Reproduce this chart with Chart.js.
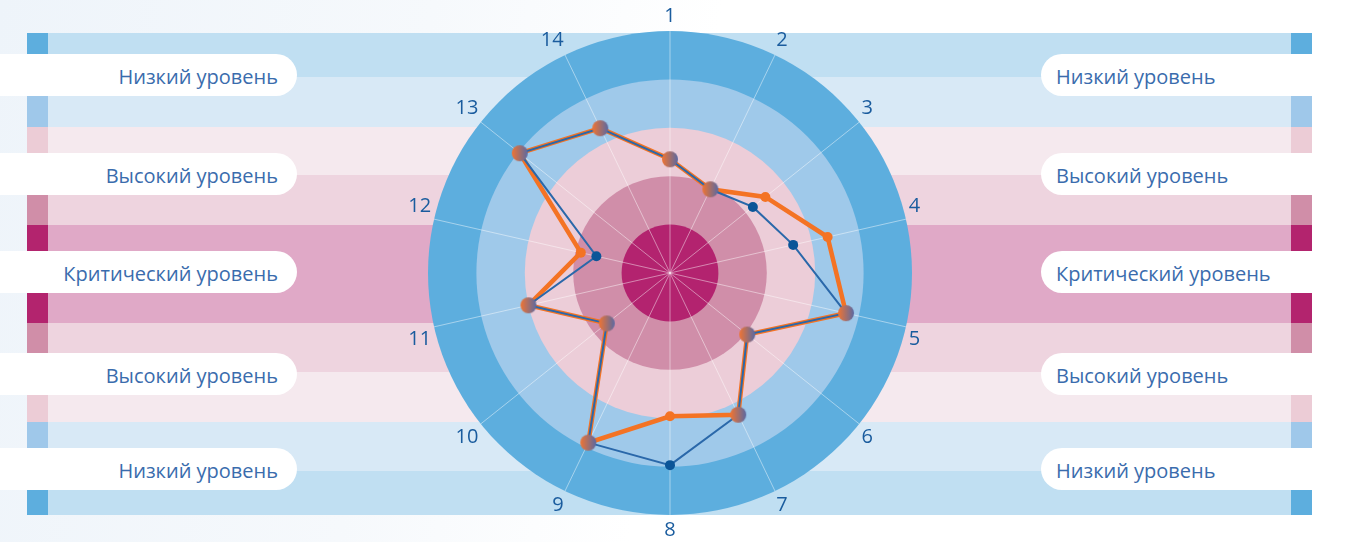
<!DOCTYPE html>
<html lang="ru">
<head>
<meta charset="utf-8">
<title>Радар уровней</title>
<script src="https://cdn.jsdelivr.net/npm/chart.js@4.4.1/dist/chart.umd.min.js"></script>
<style>
  body { margin: 0; background: #fff; font-family: 'Open Sans', sans-serif; }
  #wrap { position: relative; width: 1353px; height: 542px; overflow: hidden;
          background: linear-gradient(100deg, #eef4fa 0%, #f6f9fc 30%, #fff 50%); }
  .band, .mark { position: absolute; }
  .pill { position: absolute; height: 42px; background: #fff; color: #3a6cad;
          font-size: 20px; line-height: 45px; white-space: nowrap; overflow: hidden; }
  .pill.l { left: 0; width: 278px; padding-right: 19px; text-align: right; border-radius: 0 21px 21px 0; }
  .pill.r { left: 1041px; width: 256px; padding-left: 15px; text-align: left; border-radius: 21px 0 0 21px; }
  #chart { position: absolute; left: 0; top: 0; }
</style>
</head>
<body>
<div id="wrap">
  <canvas id="chart" width="1353" height="542"></canvas>
</div>
<script>
// оси (номера показателей)
const axisLabels = ['1', '2', '3', '4', '5', '6', '7', '8', '9', '10', '11', '12', '13', '14'];
// значения по шкале 0..5
const seriesOrange = [2.35, 1.92, 2.52, 3.34, 3.73, 2.04, 3.25, 2.96, 3.89, 1.67, 3.0, 1.89, 3.97, 3.32];
const seriesBlue   = [2.35, 1.92, 2.19, 2.61, 3.73, 2.04, 3.25, 3.97, 3.89, 1.67, 3.0, 1.56, 3.97, 3.32];
// кольца фона (верхняя граница каждого кольца)
const ringLevels = [1, 2, 3, 4, 5];
const ringColors = ['#b3236f', '#d08ea9', '#eccdd8', '#9fc9ea', '#5daede'];
// подписи уровней
const levelNames = ['Низкий уровень', 'Высокий уровень', 'Критический уровень', 'Высокий уровень', 'Низкий уровень'];

// --- фон: горизонтальные полосы и плашки (оформление) ---
const wrap = document.getElementById('wrap');
const bandRows = [
  { top: 33,  h: 44, fill: '#c0dff2', mark: '#5daede' },
  { top: 77,  h: 50, fill: '#d8e9f6', mark: '#9fc8ea' },
  { top: 127, h: 48, fill: '#f5e9ee', mark: '#ecccd6' },
  { top: 175, h: 50, fill: '#eed4df', mark: '#d08ea8' },
  { top: 225, h: 98, fill: '#e0a9c7', mark: '#b3246e' },
  { top: 323, h: 49, fill: '#eed4df', mark: '#d08ea8' },
  { top: 372, h: 50, fill: '#f5e9ee', mark: '#ecccd6' },
  { top: 422, h: 49, fill: '#d8e9f6', mark: '#9fc8ea' },
  { top: 471, h: 44, fill: '#c0dff2', mark: '#5daede' }
];
const pillTops = [54, 153, 251, 353, 448];

bandRows.forEach(b => {
  const d = document.createElement('div');
  d.className = 'band';
  d.style.cssText = `left:27px;width:1285px;top:${b.top}px;height:${b.h}px;background:${b.fill}`;
  wrap.insertBefore(d, document.getElementById('chart'));
  [27, 1291].forEach(x => {
    const m = document.createElement('div');
    m.className = 'mark';
    m.style.cssText = `left:${x}px;width:21px;top:${b.top}px;height:${b.h}px;background:${b.mark}`;
    wrap.insertBefore(m, document.getElementById('chart'));
  });
});
levelNames.forEach((name, i) => {
  ['l', 'r'].forEach(side => {
    const p = document.createElement('div');
    p.className = 'pill ' + side;
    p.style.top = pillTops[i] + 'px';
    p.textContent = name;
    wrap.insertBefore(p, document.getElementById('chart'));
  });
});

// --- кольца радара ---
const ringPlugin = {
  id: 'rings',
  beforeDraw(chart) {
    const r = chart.scales.r, ctx = chart.ctx;
    ctx.save();
    for (let i = ringLevels.length - 1; i >= 0; i--) {
      ctx.beginPath();
      ctx.arc(r.xCenter, r.yCenter, r.getDistanceFromCenterForValue(ringLevels[i]), 0, Math.PI * 2);
      ctx.fillStyle = ringColors[i];
      ctx.fill();
    }
    ctx.restore();
  }
};

// крупная точка с градиентом (где значения совпадают)
function makeDot(rad) {
  const c = document.createElement('canvas');
  c.width = c.height = rad * 2 + 2;
  const g = c.getContext('2d');
  const gr = g.createLinearGradient(1, 0, rad * 2 + 1, 0);
  gr.addColorStop(0, '#f07432');
  gr.addColorStop(1, '#5b69a2');
  g.fillStyle = gr;
  g.beginPath();
  g.arc(rad + 1, rad + 1, rad, 0, Math.PI * 2);
  g.fill();
  return c;
}
const bigDot = makeDot(8);
const common = seriesOrange.map((v, i) => (v === seriesBlue[i] ? v : null));
const differs = ctx => (seriesOrange[ctx.dataIndex] !== seriesBlue[ctx.dataIndex] ? 5 : 0);

new Chart(document.getElementById('chart'), {
  type: 'radar',
  data: {
    labels: axisLabels,
    datasets: [
      {
        label: 'Общие',
        data: common,
        showLine: false,
        fill: false,
        backgroundColor: 'transparent',
        pointStyle: bigDot,
        pointRadius: 8
      },
      {
        label: 'Синяя',
        data: seriesBlue,
        borderColor: '#2a68aa',
        backgroundColor: 'transparent',
        borderWidth: 2,
        pointBackgroundColor: '#0b5598',
        pointBorderWidth: 0,
        pointRadius: differs,
        fill: false
      },
      {
        label: 'Оранжевая',
        data: seriesOrange,
        borderColor: '#f47324',
        backgroundColor: 'transparent',
        borderWidth: 4.5,
        pointBackgroundColor: '#f47324',
        pointBorderWidth: 0,
        pointRadius: differs,
        fill: false
      }
    ]
  },
  options: {
    responsive: false,
    animation: false,
    events: [],
    layout: { padding: { top: 4, bottom: 0, left: 0, right: 13 } },
    elements: { line: { tension: 0, fill: false } },
    plugins: { legend: { display: false }, tooltip: { enabled: false } },
    scales: {
      r: {
        min: 0,
        max: 5,
        ticks: { display: false, stepSize: 1 },
        grid: { display: false },
        angleLines: { color: 'rgba(255,255,255,0.45)', lineWidth: 1 },
        pointLabels: {
          color: '#1a5c9e',
          padding: 3,
          font: { family: 'Open Sans', size: 20 }
        }
      }
    }
  },
  plugins: [ringPlugin]
});
</script>
</body>
</html>
